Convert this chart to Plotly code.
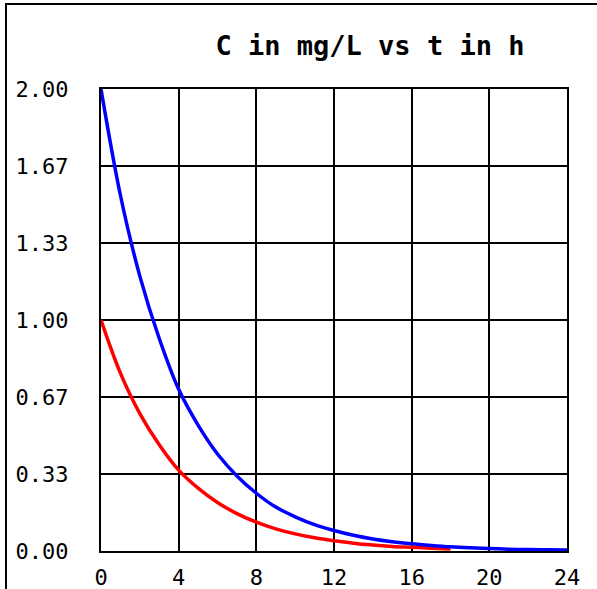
import plotly.graph_objects as go

# Data
t_blue = list(range(0, 25))
c_blue = [2.00, 1.54, 1.19, 0.92, 0.70, 0.545, 0.42, 0.325, 0.25, 0.19, 0.148, 0.114,
          0.089, 0.068, 0.052, 0.040, 0.031, 0.024, 0.018, 0.014, 0.011, 0.008, 0.006,
          0.005, 0.004]
t_red = list(range(0, 19))
c_red = [1.00, 0.77, 0.595, 0.46, 0.35, 0.272, 0.21, 0.162, 0.125, 0.096, 0.074, 0.057,
         0.045, 0.034, 0.026, 0.020, 0.016, 0.012, 0.009]

x_tickvals = [0, 4, 8, 12, 16, 20, 24]
x_ticktext = ["0", "4", "8", "12", "16", "20", "24"]
y_tickvals = [0, 1/3, 2/3, 1, 4/3, 5/3, 2]
y_ticktext = ["0.00", "0.33", "0.67", "1.00", "1.33", "1.67", "2.00"]
title_text = "C in mg/L vs t in h"

W, H = 597, 589
L, R, T, B = 101, 30, 89, 38
pw, ph = W - L - R, H - T - B

mono = "DejaVu Sans Mono, Liberation Mono, monospace"

fig = go.Figure()
fig.add_trace(go.Scatter(x=t_red, y=c_red, mode="lines",
                         line=dict(color="#ff0000", width=3.5, shape="spline"),
                         showlegend=False, hoverinfo="skip"))
fig.add_trace(go.Scatter(x=t_blue, y=c_blue, mode="lines",
                         line=dict(color="#0000ff", width=3.5, shape="spline"),
                         showlegend=False, hoverinfo="skip"))

fig.update_layout(
    width=W, height=H,
    margin=dict(l=L, r=R, t=T, b=B, pad=0, autoexpand=False),
    paper_bgcolor="white", plot_bgcolor="white",
    title=dict(text=title_text, xref="container", yref="container",
               x=370 / W, y=1 - 46 / H, xanchor="center", yanchor="middle",
               font=dict(family=mono, size=27, color="black", weight="bold")),
    xaxis=dict(range=[0, 24], tickvals=x_tickvals, ticktext=x_ticktext,
               showgrid=True, gridcolor="black", gridwidth=2,
               showline=True, linecolor="black", linewidth=2, mirror=True,
               zeroline=False, ticks="", ticklabelstandoff=6, automargin=False,
               tickfont=dict(family=mono, size=22, color="black"),
               fixedrange=True),
    yaxis=dict(range=[0, 2], tickvals=y_tickvals, ticktext=y_ticktext,
               showgrid=True, gridcolor="black", gridwidth=2,
               showline=True, linecolor="black", linewidth=2, mirror=True,
               zeroline=False, ticks="", ticklabelstandoff=26, automargin=False,
               tickfont=dict(family=mono, size=22, color="black"),
               fixedrange=True),
    shapes=[
        # outer frame: top and left edges
        dict(type="line", xref="paper", yref="paper",
             x0=(5 - L) / pw, x1=(W - L) / pw,
             y0=(H - B - 4) / ph, y1=(H - B - 4) / ph,
             line=dict(color="black", width=2), layer="above"),
        dict(type="line", xref="paper", yref="paper",
             x0=(6 - L) / pw, x1=(6 - L) / pw,
             y0=(H - B - 4) / ph, y1=-B / ph,
             line=dict(color="black", width=2), layer="above"),
    ],
)

fig.write_html("out.html",
               config={"displayModeBar": False},
               post_script="document.body.style.margin='0';document.body.style.overflow='hidden';")
